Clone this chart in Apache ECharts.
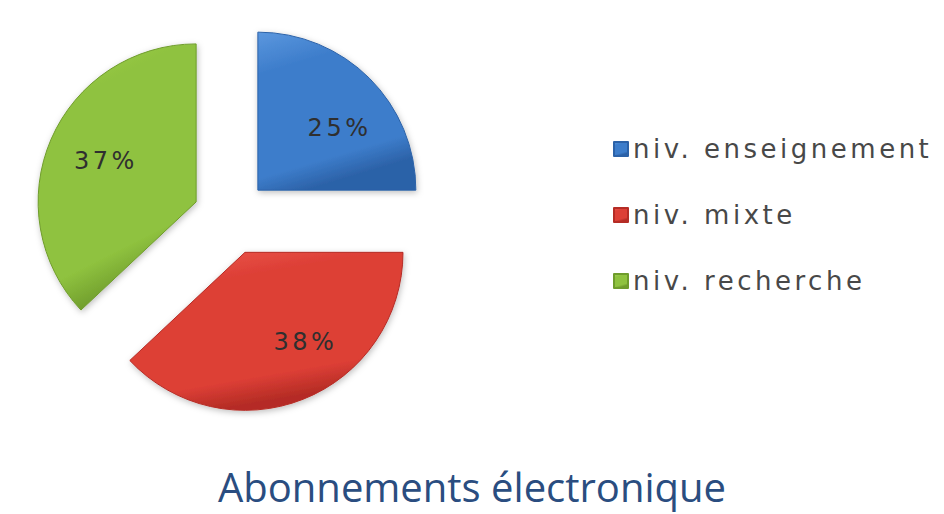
<!DOCTYPE html>
<html>
<head>
<meta charset="utf-8">
<script src="https://cdn.jsdelivr.net/npm/echarts@6/dist/echarts.min.js"></script>
<style>
  html, body { margin: 0; padding: 0; background: #ffffff; }
  #chart { width: 944px; height: 514px; }
  /* loose tracking for the legend and percentage labels */
  #chart text { letter-spacing: 3.5px; }
  #chart text[style*="Open Sans"], #chart text[font-family*="Open Sans"] { letter-spacing: 0; }
</style>
</head>
<body>
<div id="chart"></div>
<script>
// Subscription shares by level
const categories = ['niv. enseignement', 'niv. mixte', 'niv. recherche'];
const shares = [25, 38, 37];
const chartTitle = 'Abonnements électronique';

// Slice fills: [light, base, dark]
const palette = [
  ['#5b97de', '#3d7dcb', '#2c62a8'],
  ['#ee5a50', '#dd3f36', '#b52c25'],
  ['#a6d55a', '#8fc23f', '#6f9c2c']
];

// Per-slice nudges [dx, dy] of the percentage text inside its sector
const labelNudge = [
  [6, 14],
  [21, -10],
  [8, 2]
];

function sliceFill(c) {
  return {
    type: 'linear', x: 0, y: 0, x2: 0.3, y2: 1,
    colorStops: [
      { offset: 0, color: c[0] },
      { offset: 0.25, color: c[1] },
      { offset: 0.85, color: c[1] },
      { offset: 1, color: c[2] }
    ]
  };
}

const pieData = categories.map((name, i) => ({
  name: name,
  value: shares[i],
  selected: true,
  itemStyle: { color: sliceFill(palette[i]), borderColor: palette[i][2] }
}));

const labelData = categories.map((name, i) => ({
  name: name,
  value: shares[i],
  selected: true
}));

const center = [231, 217];
const offset = 38;

const chart = echarts.init(document.getElementById('chart'), null, { renderer: 'svg' });
chart.setOption({
  backgroundColor: '#ffffff',
  animation: false,
  title: {
    text: chartTitle,
    left: 'center',
    top: 461,
    textStyle: {
      fontFamily: 'Open Sans',
      fontSize: 40,
      fontWeight: 'normal',
      color: '#2a4d80'
    }
  },
  legend: {
    orient: 'vertical',
    left: 608,
    top: 131,
    itemWidth: 14,
    itemHeight: 14,
    itemGap: 40,
    icon: 'rect',
    selectedMode: false,
    data: categories,
    textStyle: {
      fontFamily: 'DejaVu Sans',
      fontSize: 26,
      color: '#484848'
    }
  },
  series: [
    {
      type: 'pie',
      center: center,
      radius: [0, 158],
      startAngle: 90,
      clockwise: true,
      selectedMode: 'multiple',
      selectedOffset: offset,
      silent: true,
      label: { show: false },
      labelLine: { show: false },
      itemStyle: {
        borderWidth: 1,
        shadowBlur: 6,
        shadowColor: 'rgba(0,0,0,0.25)',
        shadowOffsetX: 1,
        shadowOffsetY: 2
      },
      data: pieData
    },
    {
      // transparent ring that carries the percentage labels further out
      type: 'pie',
      center: center,
      radius: [50, 158],
      startAngle: 90,
      clockwise: true,
      selectedMode: 'multiple',
      selectedOffset: offset,
      silent: true,
      itemStyle: { color: 'rgba(0,0,0,0)' },
      label: {
        show: true,
        position: 'inside',
        formatter: '{d}%',
        fontFamily: 'DejaVu Sans',
        fontSize: 24,
        color: '#2f2f2f'
      },
      labelLine: { show: false },
      labelLayout: function (params) {
        const n = labelNudge[params.dataIndex] || [0, 0];
        return { dx: n[0], dy: n[1] };
      },
      data: labelData
    }
  ]
});
</script>
</body>
</html>
